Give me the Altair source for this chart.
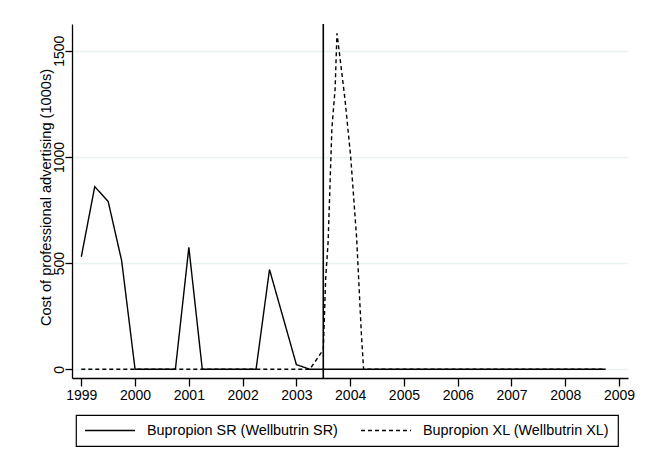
import altair as alt
import pandas as pd

SR_LABEL = "Bupropion SR (Wellbutrin SR)"
XL_LABEL = "Bupropion XL (Wellbutrin XL)"

# Quarterly dates for Bupropion SR
sr_dates = [1999.0, 1999.25, 1999.5, 1999.75,
            2000.0, 2000.25, 2000.5, 2000.75,
            2001.0, 2001.25, 2001.5, 2001.75,
            2002.0, 2002.25, 2002.5, 2002.75,
            2003.0, 2003.25, 2003.5, 2003.75,
            2004.0, 2004.25, 2004.5, 2004.75,
            2005.0, 2005.25, 2005.5, 2005.75,
            2006.0, 2006.25, 2006.5, 2006.75,
            2007.0, 2007.25, 2007.5, 2007.75,
            2008.0, 2008.25, 2008.5, 2008.75]
sr_values = [530, 860, 790, 512,
             0, 0, 0, 0,
             574, 0, 0, 0,
             0, 0, 470, 246,
             22, 0, 0, 0,
             0, 0, 0, 0,
             0, 0, 0, 0,
             0, 0, 0, 0,
             0, 0, 0, 0,
             0, 0, 0, 0]

# Bupropion XL
xl_dates = [1999.0, 1999.25, 1999.5, 1999.75,
            2000.0, 2000.25, 2000.5, 2000.75,
            2001.0, 2001.25, 2001.5, 2001.75,
            2002.0, 2002.25, 2002.5, 2002.75,
            2003.0, 2003.25, 2003.5, 2003.545,
            2003.59, 2003.66, 2003.72, 2003.755,
            2003.8, 2003.905, 2004.01, 2004.12,
            2004.21, 2004.25, 2004.5, 2004.75,
            2005.0, 2005.25, 2005.5, 2005.75,
            2006.0, 2006.25, 2006.5, 2006.75,
            2007.0, 2007.25, 2007.5, 2007.75,
            2008.0, 2008.25, 2008.5, 2008.75]
xl_values = [0, 0, 0, 0,
             0, 0, 0, 0,
             0, 0, 0, 0,
             0, 0, 0, 0,
             0, 0, 92, 430,
             600, 1135, 1320, 1582,
             1490, 1268, 1000, 620,
             160, 0, 0, 0,
             0, 0, 0, 0,
             0, 0, 0, 0,
             0, 0, 0, 0,
             0, 0, 0, 0]

event_date = [2003.5]

x_ticks = [1999, 2000, 2001, 2002, 2003, 2004, 2005, 2006, 2007, 2008, 2009]
y_ticks = [0, 500, 1000, 1500]

df = pd.concat([
    pd.DataFrame({"date": sr_dates, "cost": sr_values, "series": SR_LABEL, "order": range(len(sr_dates))}),
    pd.DataFrame({"date": xl_dates, "cost": xl_values, "series": XL_LABEL, "order": range(len(xl_dates))}),
])

FONT = "Liberation Sans"

x_scale = alt.Scale(domain=[1998.827, 2009.167], nice=False, zero=False)
y_scale = alt.Scale(domain=[-41, 1626], nice=False, zero=False)

lines = alt.Chart(df).mark_line(color="black", strokeWidth=1.4).encode(
    x=alt.X("date:Q", scale=x_scale,
            axis=alt.Axis(values=x_ticks, format="d", title=None, grid=False,
                          tickSize=8, labelPadding=2)),
    y=alt.Y("cost:Q", scale=y_scale,
            axis=alt.Axis(values=y_ticks, format="d",
                          title="Cost of professional advertising (1000s)",
                          grid=True, labelAngle=270, labelAlign="center",
                          labelBaseline="alphabetic", tickSize=7, labelPadding=2,
                          titleAngle=270, titleX=-22, titleY=173, titleAlign="center",
                          titleBaseline="alphabetic")),
    strokeDash=alt.StrokeDash("series:N",
                              scale=alt.Scale(domain=[SR_LABEL, XL_LABEL],
                                              range=[[1, 0], [4, 3]]),
                              legend=alt.Legend(title=None, clipHeight=15)),
    order="order:Q",
)

rule = alt.Chart(pd.DataFrame({"date": event_date})).mark_rule(
    color="black", strokeWidth=1.6).encode(x=alt.X("date:Q", scale=x_scale))

chart = alt.layer(lines, rule).properties(
    width=556, height=354,
    autosize=alt.AutoSizeParams(type="none"),
    padding={"left": 64, "top": 16, "right": 15, "bottom": 74},
    background="white",
).configure_view(stroke=None).configure_axis(
    labelFont=FONT, titleFont=FONT, labelFontSize=14, titleFontSize=14.6,
    titleFontWeight="normal", labelColor="black", titleColor="black",
    domainColor="black", domainWidth=1.3, tickColor="black", tickWidth=1.3,
    gridColor="#EAF2F3", gridWidth=1.3,
).configure_legend(
    orient="none", legendX=4, legendY=391, direction="horizontal", columns=2,
    strokeColor="black", strokeWidth=1.2, padding=8, fillColor="white",
    symbolType="stroke", symbolSize=2500, symbolStrokeWidth=1.4,
    symbolStrokeColor="black", labelFont=FONT, labelFontSize=14.4,
    labelColor="black", labelOffset=11, columnPadding=22, labelLimit=400,
)

chart.save("out.html", embed_options={"renderer": "svg", "actions": False})
